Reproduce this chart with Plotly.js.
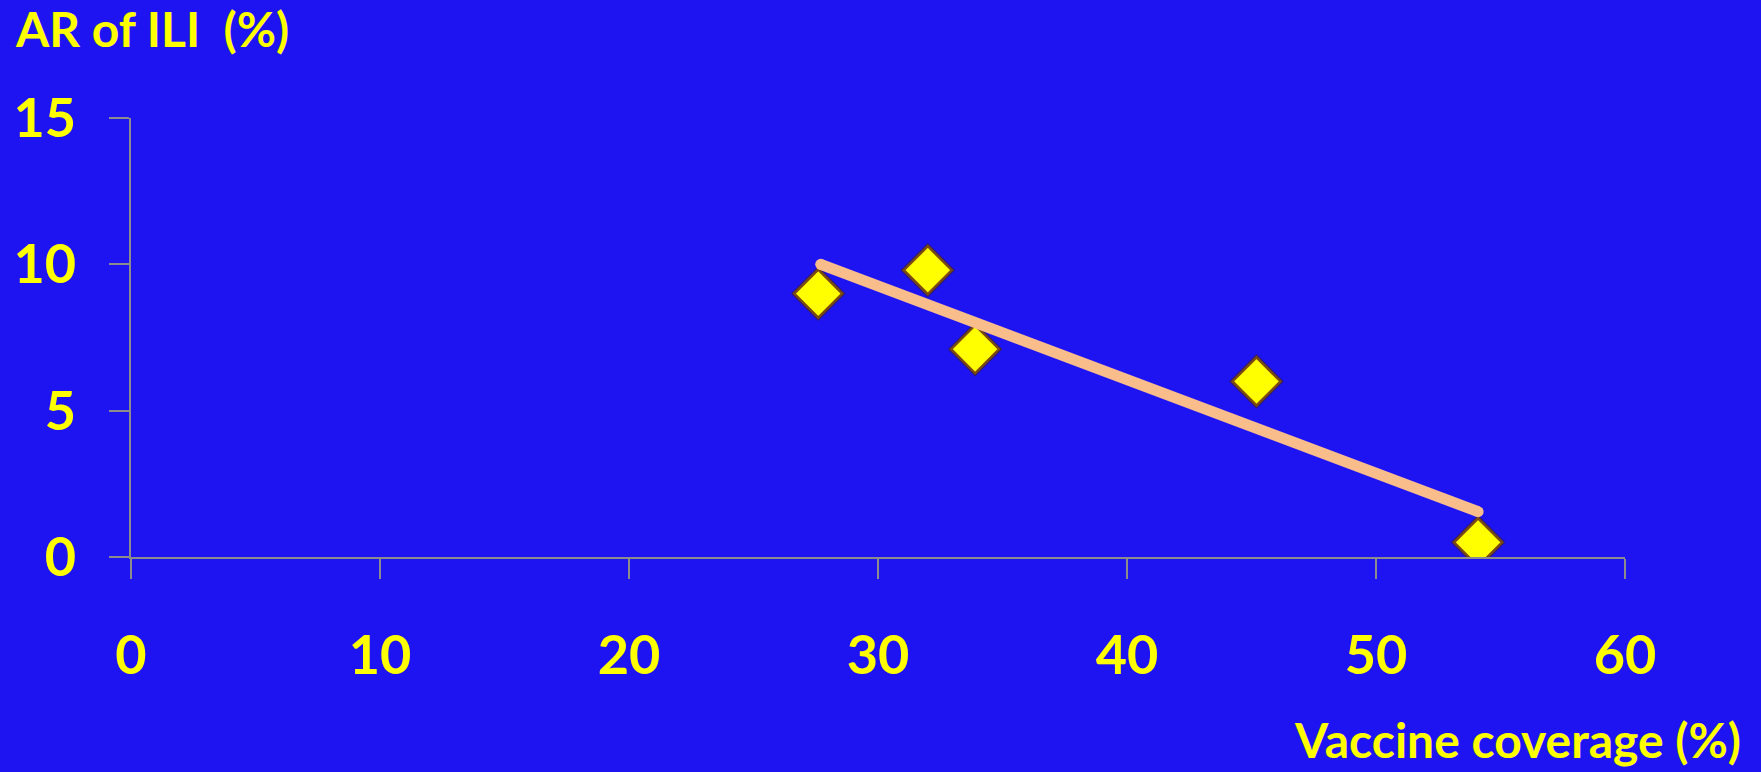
<!DOCTYPE html>
<html>
<head>
<meta charset="utf-8">
<script src="https://cdn.plot.ly/plotly-3.0.1.min.js"></script>
<style>html,body{margin:0;padding:0;background:#1E14F2;}#chart{width:1761px;height:772px;}</style>
</head>
<body>
<div id="chart"></div>
<script>
// Data
const coverage = [27.6, 32.0, 33.9, 45.2, 54.1];   // Vaccine coverage (%)
const arILI    = [9.0, 9.8, 7.1, 6.0, 0.5];        // AR of ILI (%)
const trendX   = [27.7, 54.1];                     // trend line end points
const trendY   = [10.0, 1.55];
const xTicks   = [0, 10, 20, 30, 40, 50, 60];
const yTicks   = [0, 5, 10, 15];

const yellow = '#FFFF00';
const bg = '#1E14F2';
const font = 'Lato, "Open Sans", sans-serif';

const traces = [
  {
    x: coverage, y: arILI, type: 'scatter', mode: 'markers',
    marker: {symbol: 'diamond', size: 42, color: 'rgba(60,30,10,0.55)', line: {width: 0}},
    hoverinfo: 'skip', showlegend: false
  },
  {
    x: coverage, y: arILI, type: 'scatter', mode: 'markers',
    marker: {symbol: 'diamond', size: 37, color: '#FFFF00', line: {color: '#7A4A12', width: 2.5}},
    showlegend: false
  },
  {
    x: trendX, y: trendY, type: 'scatter', mode: 'lines+markers',
    line: {color: '#F9BD8C', width: 11},
    marker: {symbol: 'circle', size: 11, color: '#F9BD8C', line: {width: 0}},
    showlegend: false
  }
];

const axisCommon = {
  showgrid: false, zeroline: false, showline: true,
  linecolor: '#8C8C8C', linewidth: 2,
  ticks: 'outside', ticklen: 20, tickwidth: 2, tickcolor: '#8C8C8C',
  tickfont: {family: font, size: 54, color: yellow, weight: 'bold'}
};

const layout = {
  width: 1761, height: 772,
  paper_bgcolor: bg, plot_bgcolor: bg,
  margin: {l: 131, r: 136, t: 118, b: 215, pad: 0},
  xaxis: Object.assign({}, axisCommon, {range: [0, 60], tickvals: xTicks, ticktext: xTicks.map(String), ticklabelstandoff: 30}),
  yaxis: Object.assign({}, axisCommon, {range: [0, 15], tickvals: yTicks, ticktext: yTicks.map(String), ticklabelstandoff: 22}),
  annotations: [
    {text: 'AR of ILI&nbsp;&nbsp;(%)', xref: 'paper', yref: 'paper', x: -0.079, y: 1.205,
     xanchor: 'left', yanchor: 'middle', showarrow: false,
     font: {family: font, size: 48, color: yellow, weight: 'bold'}},
    {text: 'Vaccine coverage (%)', xref: 'paper', yref: 'paper', x: 1.079, y: -0.416,
     xanchor: 'right', yanchor: 'middle', showarrow: false,
     font: {family: font, size: 48, color: yellow, weight: 'bold'}}
  ],
  showlegend: false
};

Plotly.newPlot('chart', traces, layout, {displayModeBar: false, staticPlot: true});
</script>
</body>
</html>
